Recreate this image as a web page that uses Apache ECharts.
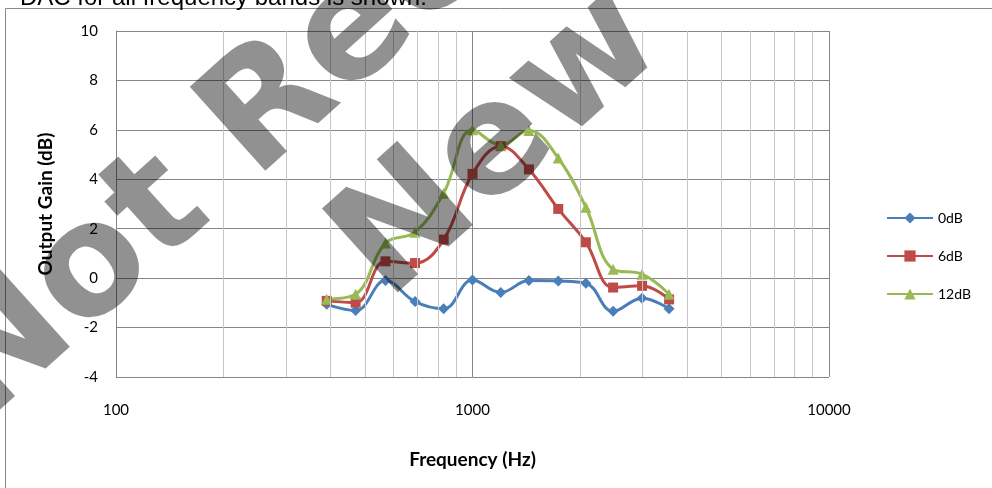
<!DOCTYPE html>
<html>
<head>
<meta charset="utf-8">
<script src="https://cdn.jsdelivr.net/npm/echarts@6/dist/echarts.min.js"></script>
<style>html,body{margin:0;padding:0;background:#fff}#c{width:992px;height:488px}</style>
</head>
<body>
<div id="c"></div>
<script>
const freqs = [390, 470, 570, 690, 830, 1000, 1200, 1440, 1740, 2080, 2480, 2990, 3560];
const gain0dB = [-1.06, -1.31, -0.10, -0.95, -1.24, -0.08, -0.58, -0.10, -0.12, -0.21, -1.34, -0.81, -1.24];
const gain6dB = [-0.92, -0.99, 0.68, 0.61, 1.56, 4.22, 5.34, 4.40, 2.80, 1.45, -0.38, -0.31, -0.86];
const gain12dB = [-0.85, -0.65, 1.42, 1.86, 3.44, 6.00, 5.38, 5.97, 4.86, 2.87, 0.36, 0.16, -0.65];
const minorFreqs = [200, 300, 400, 500, 600, 700, 800, 900, 2000, 3000, 4000, 5000, 6000, 7000, 8000, 9000];
const seriesNames = ['0dB', '6dB', '12dB'];
const xTitle = 'Frequency (Hz)';
const yTitle = 'Output Gain (dB)';
const topText = 'DAC for all frequency bands is shown.';
const watermark1 = 'Not Recommended';
const watermark2 = 'New';

const pair = (ys) => freqs.map((f, i) => [f, ys[i]]);
const font = 'Lato, "Open Sans", sans-serif';
const chart = echarts.init(document.getElementById('c'), null, {renderer: 'canvas'});
const rot = 42 * Math.PI / 180;
const wmFont = 'bold 155px "DejaVu Sans", sans-serif';
const wmFill = 'rgba(0,0,0,0.43)';

chart.setOption({
  animation: false,
  backgroundColor: '#fff',
  grid: {left: 116, right: 163, top: 31, bottom: 111, show: false},
  legend: {
    data: seriesNames, orient: 'vertical', left: 881, top: 206,
    itemWidth: 46, itemHeight: 14, itemGap: 24,
    textStyle: {fontSize: 14, color: '#000', fontFamily: font}
  },
  xAxis: {
    type: 'log', logBase: 10, min: 100, max: 10000,
    name: xTitle, nameLocation: 'middle', nameGap: 73,
    nameTextStyle: {fontSize: 19, fontWeight: 'bold', color: '#000', fontFamily: font},
    axisLine: {show: true, lineStyle: {color: '#868686', width: 1}},
    axisTick: {show: false},
    axisLabel: {fontSize: 15, color: '#000', margin: 26, fontFamily: font,
      formatter: v => String(Math.round(v))},
    splitLine: {show: true, lineStyle: {color: '#868686', width: 1}}
  },
  yAxis: {
    type: 'value', min: -4, max: 10, interval: 2,
    name: yTitle, nameLocation: 'middle', nameGap: 61,
    nameTextStyle: {fontSize: 19, fontWeight: 'bold', color: '#000', fontFamily: font},
    axisLine: {show: true, lineStyle: {color: '#868686', width: 1}},
    axisTick: {show: false},
    axisLabel: {fontSize: 15, color: '#000', margin: 18, fontFamily: font},
    splitLine: {show: true, lineStyle: {color: '#868686', width: 1}}
  },
  series: [
    {
      name: 'minor', type: 'line', data: [], z: 1, silent: true,
      markLine: {
        silent: true, symbol: ['none', 'none'], animation: false,
        label: {show: false},
        lineStyle: {color: '#c6c6c6', width: 1, type: 'solid'},
        data: minorFreqs.map(f => ({xAxis: f}))
      }
    },
    {
      name: seriesNames[0], type: 'line', data: pair(gain0dB), smooth: 0.4,
      symbol: 'diamond', symbolSize: 11, color: '#4A7EBB',
      lineStyle: {width: 3}, itemStyle: {color: '#4A7EBB'}
    },
    {
      name: seriesNames[1], type: 'line', data: pair(gain6dB), smooth: 0.4,
      symbol: 'rect', symbolSize: 10, color: '#BE4B48',
      lineStyle: {width: 3}, itemStyle: {color: '#BE4B48'}
    },
    {
      name: seriesNames[2], type: 'line', data: pair(gain12dB), smooth: 0.4,
      symbol: 'triangle', symbolSize: 11, color: '#98B954',
      lineStyle: {width: 3}, itemStyle: {color: '#98B954'}
    }
  ],
  graphic: [
    {type: 'rect', z: 0, silent: true, shape: {x: 5.5, y: 8.5, width: 1200, height: 800},
     style: {fill: 'none', stroke: '#8a8a8a', lineWidth: 1}},
    {type: 'text', z: 0, silent: true, x: 20, y: 10,
     style: {text: topText, font: '24px "Liberation Sans", Arial, sans-serif', fill: '#000', textVerticalAlign: 'bottom'}},
    {type: 'text', z: 100, silent: true, x: -43, y: 394, rotation: rot,
     style: {text: watermark1, font: wmFont, fill: wmFill, textAlign: 'left', textVerticalAlign: 'middle'}},
    {type: 'text', z: 100, silent: true, x: 360, y: 272, rotation: rot,
     style: {text: watermark2, font: wmFont, fill: wmFill, textAlign: 'left', textVerticalAlign: 'middle'}}
  ]
});
</script>
</body>
</html>
